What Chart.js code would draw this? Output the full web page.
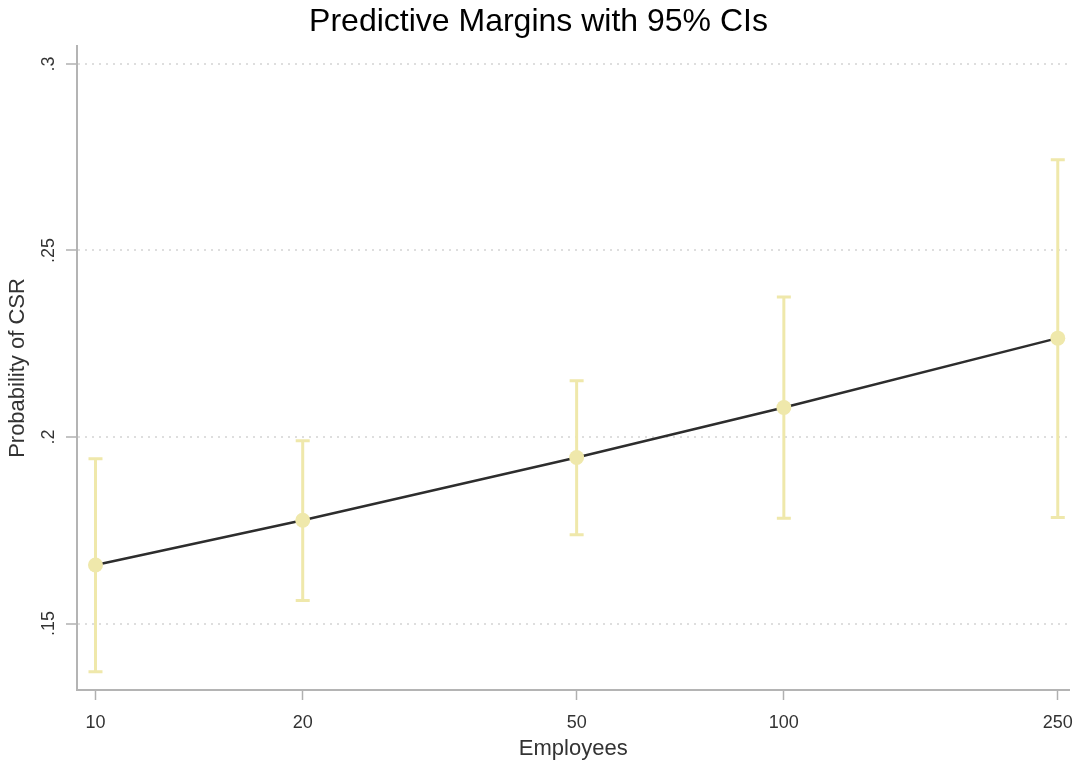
<!DOCTYPE html>
<html>
<head>
<meta charset="utf-8">
<title>Predictive Margins</title>
<script src="https://cdn.jsdelivr.net/npm/chart.js@4"></script>
<style>
  html, body { margin: 0; padding: 0; background: #fff; }
  canvas { display: block; }
</style>
</head>
<body>
<canvas id="marginsChart" width="1077" height="762"></canvas>
<script>
// Margins by firm size, with 95% confidence limits
const employees = [10, 20, 50, 100, 250];
const margin = [0.1657, 0.1777, 0.1945, 0.2079, 0.2265];
const ciLow = [0.1371, 0.1562, 0.1738, 0.1782, 0.1784];
const ciHigh = [0.1942, 0.1990, 0.2151, 0.2375, 0.2743];

const xTicks = [10, 20, 50, 100, 250];
const yTicks = [0.15, 0.2, 0.25, 0.3];
const yTickLabels = ['.15', '.2', '.25', '.3'];

const FONT = "'Liberation Sans', Arial, sans-serif";
const CI_COLOR = '#efe8ab';

// vertical CI bars with caps, drawn under the line and markers
const errorBars = {
    id: 'errorBars',
    beforeDatasetsDraw(chart) {
        const ctx = chart.ctx;
        const xs = chart.scales.x, ys = chart.scales.y;
        ctx.save();
        ctx.strokeStyle = CI_COLOR;
        ctx.lineWidth = 3;
        employees.forEach((e, i) => {
            const x = xs.getPixelForValue(e);
            const top = ys.getPixelForValue(ciHigh[i]);
            const bot = ys.getPixelForValue(ciLow[i]);
            ctx.beginPath();
            ctx.moveTo(x, top);
            ctx.lineTo(x, bot);
            ctx.moveTo(x - 7, top);
            ctx.lineTo(x + 7, top);
            ctx.moveTo(x - 7, bot);
            ctx.lineTo(x + 7, bot);
            ctx.stroke();
        });
        ctx.restore();
    }
};

const ctx = document.getElementById('marginsChart').getContext('2d');
const chart = new Chart(ctx, {
    type: 'line',
    data: {
        datasets: [{
            data: employees.map((e, i) => ({ x: e, y: margin[i] })),
            borderColor: '#2d2d2d',
            borderWidth: 2.5,
            pointRadius: 7.5,
            pointHoverRadius: 7.5,
            pointBackgroundColor: CI_COLOR,
            pointBorderWidth: 0,
            tension: 0
        }]
    },
    options: {
        responsive: false,
        animation: false,
        layout: { padding: 0 },
        plugins: {
            legend: { display: false },
            tooltip: { enabled: false },
            title: {
                display: true,
                text: 'Predictive Margins with 95% CIs',
                color: '#000',
                font: { family: FONT, size: 32, weight: 'normal' },
                padding: { top: 3, bottom: 4.6 }
            }
        },
        scales: {
            x: {
                type: 'logarithmic',
                min: 9.4,
                max: 260,
                afterBuildTicks: (scale) => { scale.ticks = xTicks.map(v => ({ value: v })); },
                afterFit: (scale) => {
                    scale.height = 72;
                    // end labels may hang past the plot edges
                    scale.paddingLeft = 0;
                    scale.paddingRight = 0;
                },
                ticks: {
                    color: '#333',
                    font: { family: FONT, size: 18 },
                    padding: 12,
                    maxRotation: 0,
                    autoSkip: false,
                    callback: (v) => String(v)
                },
                grid: {
                    drawOnChartArea: false,
                    drawTicks: true,
                    tickLength: 10,
                    tickColor: '#b0b0b0',
                    tickWidth: 1.5
                },
                border: { display: true, color: '#b4b4b4', width: 2 },
                title: {
                    display: true,
                    text: 'Employees',
                    color: '#333',
                    font: { family: FONT, size: 22 },
                    padding: { top: 0, bottom: 0 }
                }
            },
            y: {
                min: 0.1322,
                max: 0.3048,
                afterBuildTicks: (scale) => { scale.ticks = yTicks.map(v => ({ value: v })); },
                afterFit: (scale) => { scale.width = 77; },
                ticks: {
                    color: '#333',
                    font: { family: FONT, size: 18 },
                    padding: 4,
                    minRotation: 90,
                    maxRotation: 90,
                    crossAlign: 'center',
                    callback: (v, i) => yTickLabels[i]
                },
                grid: {
                    color: '#dedede',
                    lineWidth: 2,
                    tickLength: 11,
                    tickColor: '#b0b0b0',
                    tickWidth: 1.5,
                    tickBorderDash: []
                },
                border: { display: true, color: '#b4b4b4', width: 2, dash: [2, 5] },
                title: {
                    display: true,
                    text: 'Probability of CSR',
                    color: '#333',
                    font: { family: FONT, size: 22 },
                    padding: { top: 5, bottom: 0 }
                }
            }
        }
    },
    plugins: [errorBars]
});
</script>
</body>
</html>
